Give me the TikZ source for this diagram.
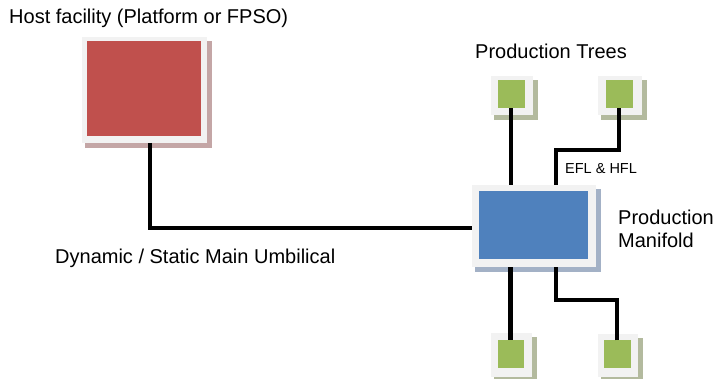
\documentclass[tikz,border=0pt]{standalone}
\usepackage{fontspec}
\setmainfont{Liberation Sans}
\definecolor{framegray}{HTML}{F2F2F2}
\definecolor{hostred}{HTML}{C0504D}
\definecolor{hostshadow}{HTML}{C4A6A6}
\definecolor{manblue}{HTML}{4F81BD}
\definecolor{manshadow}{HTML}{A3B1C6}
\definecolor{treegreen}{HTML}{9BBB59}
\definecolor{treeshadow}{HTML}{B3BA9E}
\tikzset{
  frame/.style={fill=framegray, draw=none, inner sep=0pt, outer sep=0pt},
  core/.style={draw=none, inner sep=0pt, outer sep=0pt},
  pipe/.style={line width=4.6pt, black, line cap=butt, line join=miter},
  bigtext/.style={inner sep=0pt, font=\fontsize{20}{23}\selectfont},
  smalltext/.style={inner sep=0pt, font=\fontsize{14.5}{17}\selectfont},
}
% unit: shadow, light frame, coloured core
\newcommand\subseaunit[9]{%
  % #1 name, #2 frame centre x, #3 frame centre y, #4 frame w, #5 frame h,
  % #6 core fill, #7 shadow colour, #8 core w, #9 core h
  \fill[#7] (#2-#4/2+3, #3-#5/2+4) rectangle (#2+#4/2+5, #3+#5/2+5);
  \node[frame, minimum width=#4pt, minimum height=#5pt] (#1) at (#2,#3) {};
  \node[core, fill=#6, minimum width=#8pt, minimum height=#9pt] (#1c) at (#2-1,#3-1) {};
}
\begin{document}
\begin{tikzpicture}[x=1pt, y=-1pt]
\useasboundingbox (0,0) rectangle (713,379);

% host facility
\subseaunit{host}{144.5}{90}{125}{106}{hostred}{hostshadow}{114}{95}
% manifold
\subseaunit{mf}{534}{226}{124}{82}{manblue}{manshadow}{109}{68}
% trees
\subseaunit{tl}{512}{95.5}{42}{39}{treegreen}{treeshadow}{27}{28}
\subseaunit{tr}{620}{95.5}{44}{39}{treegreen}{treeshadow}{27}{28}
\subseaunit{bl}{511.5}{355}{41}{44}{treegreen}{treeshadow}{26}{28}
\subseaunit{br}{618}{355.5}{40}{43}{treegreen}{treeshadow}{27}{28}

% junction points of the flowline routes
\coordinate (umb) at (150,143);
\coordinate (jt) at (556,150);
\coordinate (jb) at (556,300);

% umbilical from host to manifold
\draw[pipe] (umb) |- ([yshift=-2pt]mf.west);
% tree jumpers
\draw[pipe] (tlc.south) -- (tlc.south |- mf.north);
\draw[pipe] (trc.south) |- (jt) -- (jt |- mf.north);
\draw[pipe] (blc.north) -- (blc.north |- mf.south);
\draw[pipe] (brc.north) |- (jb) -- (jb |- mf.south);

% labels
\node[bigtext, anchor=base west] (lhost) at (9,24) {Host facility (Platform or FPSO)};
\node[bigtext, anchor=base] (ltrees) at (551,59) {Production Trees};
\node[bigtext, anchor=base west, align=left] (lmf) at (618,248) {Production\\Manifold};
\node[bigtext, anchor=base west] (lumb) at (55,264) {Dynamic / Static Main Umbilical};
\node[smalltext, anchor=base west] (lefl) at (565,174) {EFL \& HFL};
\end{tikzpicture}
\end{document}
